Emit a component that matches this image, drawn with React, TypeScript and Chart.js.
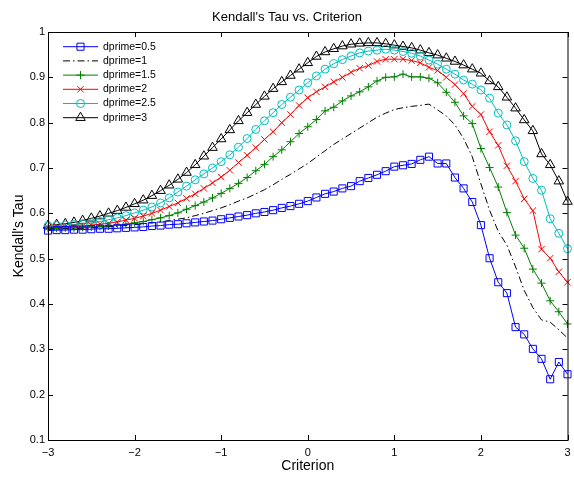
import React, { useEffect, useRef } from "react";
import { Chart, registerables } from "chart.js";
import { drawPoint } from "chart.js/helpers";

Chart.register(...registerables);

// Criterion values (x)
const criterion = [
  -3.0, -2.9, -2.8, -2.7, -2.6, -2.5, -2.4, -2.3, -2.2, -2.1,
  -2.0, -1.9, -1.8, -1.7, -1.6, -1.5, -1.4, -1.3, -1.2, -1.1,
  -1.0, -0.9, -0.8, -0.7, -0.6, -0.5, -0.4, -0.3, -0.2, -0.1,
  0.0, 0.1, 0.2, 0.3, 0.4, 0.5, 0.6, 0.7, 0.8, 0.9,
  1.0, 1.1, 1.2, 1.3, 1.4, 1.5, 1.6, 1.7, 1.8, 1.9,
  2.0, 2.1, 2.2, 2.3, 2.4, 2.5, 2.6, 2.7, 2.8, 2.9, 3.0,
];

// Kendall's tau for each d'
const tauD05 = [
  0.562, 0.563, 0.563, 0.564, 0.564, 0.565, 0.566, 0.566, 0.567, 0.568,
  0.569, 0.570, 0.572, 0.573, 0.575, 0.576, 0.578, 0.580, 0.582, 0.584,
  0.587, 0.590, 0.593, 0.596, 0.600, 0.603, 0.607, 0.612, 0.616, 0.621,
  0.627, 0.635, 0.643, 0.648, 0.655, 0.660, 0.671, 0.678, 0.685, 0.693,
  0.703, 0.706, 0.709, 0.718, 0.725, 0.710, 0.710, 0.679, 0.655, 0.625,
  0.574, 0.501, 0.448, 0.424, 0.349, 0.333, 0.301, 0.279, 0.234, 0.272, 0.245,
];
const tauD1 = [
  0.565, 0.565, 0.566, 0.566, 0.567, 0.568, 0.569, 0.570, 0.572, 0.573,
  0.575, 0.577, 0.579, 0.581, 0.584, 0.587, 0.590, 0.595, 0.600, 0.606,
  0.612, 0.619, 0.627, 0.634, 0.643, 0.652, 0.663, 0.675, 0.686, 0.698,
  0.710, 0.724, 0.738, 0.752, 0.764, 0.776, 0.788, 0.800, 0.812, 0.821,
  0.829, 0.833, 0.836, 0.838, 0.841, 0.828, 0.815, 0.795, 0.765, 0.725,
  0.665, 0.607, 0.560, 0.530, 0.482, 0.430, 0.392, 0.365, 0.360, 0.343, 0.325,
];
const tauD15 = [
  0.567, 0.567, 0.568, 0.568, 0.569, 0.570, 0.571, 0.572, 0.574, 0.576,
  0.579, 0.582, 0.586, 0.590, 0.595, 0.601, 0.609, 0.617, 0.625, 0.634,
  0.644, 0.655, 0.666, 0.679, 0.694, 0.708, 0.725, 0.740, 0.758, 0.776,
  0.791, 0.807, 0.826, 0.834, 0.848, 0.859, 0.868, 0.879, 0.892, 0.900,
  0.901, 0.907, 0.901, 0.901, 0.898, 0.888, 0.867, 0.845, 0.815, 0.798,
  0.743, 0.701, 0.658, 0.602, 0.552, 0.523, 0.477, 0.446, 0.407, 0.383, 0.356,
];
const tauD2 = [
  0.569, 0.570, 0.570, 0.571, 0.572, 0.574, 0.576, 0.578, 0.581, 0.585,
  0.589, 0.594, 0.600, 0.607, 0.615, 0.623, 0.633, 0.643, 0.655, 0.667,
  0.680, 0.695, 0.712, 0.728, 0.745, 0.763, 0.780, 0.800, 0.818, 0.838,
  0.855, 0.868, 0.879, 0.890, 0.900, 0.911, 0.920, 0.926, 0.935, 0.940,
  0.940, 0.940, 0.937, 0.932, 0.922, 0.915, 0.900, 0.884, 0.864, 0.836,
  0.818, 0.780, 0.750, 0.705, 0.671, 0.632, 0.606, 0.521, 0.501, 0.471, 0.448,
];
const tauD25 = [
  0.572, 0.573, 0.574, 0.575, 0.577, 0.579, 0.582, 0.586, 0.590, 0.595,
  0.601, 0.607, 0.614, 0.623, 0.634, 0.647, 0.660, 0.674, 0.687, 0.700,
  0.714, 0.729, 0.746, 0.765, 0.785, 0.804, 0.822, 0.840, 0.856, 0.872,
  0.888, 0.903, 0.918, 0.930, 0.939, 0.947, 0.954, 0.958, 0.960, 0.962,
  0.960, 0.957, 0.953, 0.947, 0.938, 0.929, 0.918, 0.907, 0.894, 0.885,
  0.872, 0.854, 0.821, 0.795, 0.760, 0.714, 0.677, 0.651, 0.588, 0.556, 0.522,
];
const tauD3 = [
  0.573, 0.575, 0.577, 0.580, 0.584, 0.589, 0.594, 0.600, 0.606, 0.613,
  0.621, 0.629, 0.639, 0.650, 0.662, 0.675, 0.690, 0.707, 0.726, 0.745,
  0.764, 0.784, 0.804, 0.822, 0.840, 0.858, 0.875, 0.890, 0.904, 0.918,
  0.932, 0.946, 0.956, 0.963, 0.969, 0.973, 0.975, 0.976, 0.976, 0.974,
  0.971, 0.968, 0.965, 0.960, 0.954, 0.949, 0.942, 0.935, 0.927, 0.918,
  0.909, 0.892, 0.879, 0.856, 0.832, 0.806, 0.782, 0.731, 0.707, 0.671, 0.626,
];

const seriesLabels = ["dprime=0.5", "dprime=1", "dprime=1.5", "dprime=2", "dprime=2.5", "dprime=3"];
const seriesValues = [tauD05, tauD1, tauD15, tauD2, tauD25, tauD3];

const xTicks = [-3, -2, -1, 0, 1, 2, 3];
const yTicks = [0.1, 0.2, 0.3, 0.4, 0.5, 0.6, 0.7, 0.8, 0.9, 1];

const FONT = "'Liberation Sans', Arial, Helvetica, sans-serif";

// Line / marker appearance per series
const seriesStyles = [
  { color: "#0000ff", pointStyle: "rect", radius: 5, dash: [] as number[] },
  { color: "#000000", pointStyle: false, radius: 0, dash: [7, 3, 1.5, 3] },
  { color: "#008000", pointStyle: "cross", radius: 4, dash: [] as number[] },
  { color: "#ff0000", pointStyle: "crossRot", radius: 4.5, dash: [] as number[] },
  { color: "#00bfbf", pointStyle: "circle", radius: 4, dash: [] as number[] },
  { color: "#000000", pointStyle: "triangle", radius: 5.5, dash: [] as number[] },
];

const fmtTick = (v: number) => {
  const s = Number(v.toFixed(1)).toString();
  return s.startsWith("-") ? "\u2212" + s.slice(1) : s;
};

// Box around the plot with inward tick marks on all four sides
const framePlugin = {
  id: "frame",
  afterDatasetsDraw(chart: any) {
    const { ctx, chartArea: a, scales } = chart;
    const len = 5;
    ctx.save();
    ctx.strokeStyle = "#000";
    ctx.lineWidth = 1;
    ctx.setLineDash([]);
    ctx.strokeRect(a.left + 0.5, a.top + 0.5, a.right - a.left, a.bottom - a.top);
    ctx.beginPath();
    xTicks.forEach((v) => {
      const px = Math.round(scales.x.getPixelForValue(v)) + 0.5;
      ctx.moveTo(px, a.bottom);
      ctx.lineTo(px, a.bottom - len);
      ctx.moveTo(px, a.top);
      ctx.lineTo(px, a.top + len);
    });
    yTicks.forEach((v) => {
      const py = Math.round(scales.y.getPixelForValue(v)) + 0.5;
      ctx.moveTo(a.left, py);
      ctx.lineTo(a.left + len, py);
      ctx.moveTo(a.right, py);
      ctx.lineTo(a.right - len, py);
    });
    ctx.stroke();
    ctx.restore();
  },
};

// Legend drawn inside the upper-left corner of the plot
const insetLegendPlugin = {
  id: "insetLegend",
  afterDraw(chart: any) {
    const { ctx, chartArea: a } = chart;
    const x0 = a.left + 15;
    const lineLen = 35;
    const y0 = a.top + 14.7;
    const rowH = 14.2;
    chart.data.datasets.forEach((ds: any, i: number) => {
      const y = y0 + i * rowH;
      ctx.save();
      ctx.strokeStyle = ds.borderColor;
      ctx.lineWidth = 1;
      ctx.setLineDash(ds.borderDash || []);
      ctx.beginPath();
      ctx.moveTo(x0, y);
      ctx.lineTo(x0 + lineLen, y);
      ctx.stroke();
      ctx.setLineDash([]);
      if (ds.pointStyle) {
        ctx.fillStyle = "rgba(0,0,0,0)";
        ctx.strokeStyle = ds.borderColor;
        drawPoint(ctx, { pointStyle: ds.pointStyle, rotation: 0, radius: ds.pointRadius, borderWidth: 1 }, x0 + lineLen / 2, y);
      }
      ctx.fillStyle = "#000";
      ctx.font = `10.5px ${FONT}`;
      ctx.textBaseline = "middle";
      ctx.textAlign = "left";
      ctx.fillText(ds.label, x0 + lineLen + 5, y);
      ctx.restore();
    });
  },
};

export default function App() {
  const canvasRef = useRef<HTMLCanvasElement | null>(null);

  useEffect(() => {
    if (!canvasRef.current) return;
    const datasets = seriesLabels.map((label, i) => {
      const st = seriesStyles[i];
      return {
        label,
        data: criterion.map((x, j) => ({ x, y: seriesValues[i][j] })),
        borderColor: st.color,
        backgroundColor: "rgba(0,0,0,0)",
        borderWidth: 1,
        borderDash: st.dash,
        pointStyle: st.pointStyle as any,
        pointRadius: st.radius,
        pointBorderColor: st.color,
        pointBackgroundColor: "rgba(0,0,0,0)",
        pointBorderWidth: 1,
        tension: 0,
        clip: false as any,
      };
    });

    const chart = new Chart(canvasRef.current, {
      type: "line",
      data: { datasets },
      options: {
        responsive: false,
        animation: false,
        layout: { padding: { left: 0, right: 0, top: 0, bottom: 0 } },
        plugins: {
          legend: { display: false },
          tooltip: { enabled: false },
          title: {
            display: true,
            text: "Kendall's Tau vs. Criterion",
            color: "#000",
            font: { family: FONT, size: 13, weight: "normal" },
            padding: { top: 10, bottom: 6.4 },
          },
        },
        scales: {
          x: {
            type: "linear",
            min: -3,
            max: 3,
            afterFit: (s: any) => {
              s.height = 39;
              s.paddingLeft = 0;
              s.paddingRight = 4;
            },
            afterBuildTicks: (s: any) => {
              s.ticks = xTicks.map((v) => ({ value: v }));
            },
            grid: { display: false, drawTicks: false },
            border: { display: false },
            ticks: {
              color: "#000",
              padding: 6,
              maxRotation: 0,
              font: { family: FONT, size: 11 },
              callback: (v: any) => fmtTick(Number(v)),
            },
            title: {
              display: true,
              text: "Criterion",
              color: "#000",
              font: { family: FONT, size: 14 },
              padding: { top: 0, bottom: 4 },
            },
          },
          y: {
            type: "linear",
            min: 0.1,
            max: 1,
            afterFit: (s: any) => {
              s.width = 48;
            },
            afterBuildTicks: (s: any) => {
              s.ticks = yTicks.map((v) => ({ value: v }));
            },
            grid: { display: false, drawTicks: false },
            border: { display: false },
            ticks: {
              color: "#000",
              padding: 3,
              font: { family: FONT, size: 11 },
              callback: (v: any) => fmtTick(Number(v)),
            },
            title: {
              display: true,
              text: "Kendall's Tau",
              color: "#000",
              font: { family: FONT, size: 14 },
              padding: { top: 10.6, bottom: 0 },
            },
          },
        },
      },
      plugins: [framePlugin, insetLegendPlugin],
    });

    return () => chart.destroy();
  }, []);

  return (
    <div style={{ position: "absolute", left: 0, top: 0, width: 574, height: 479, background: "#fff" }}>
      <canvas ref={canvasRef} width={574} height={479} />
    </div>
  );
}
